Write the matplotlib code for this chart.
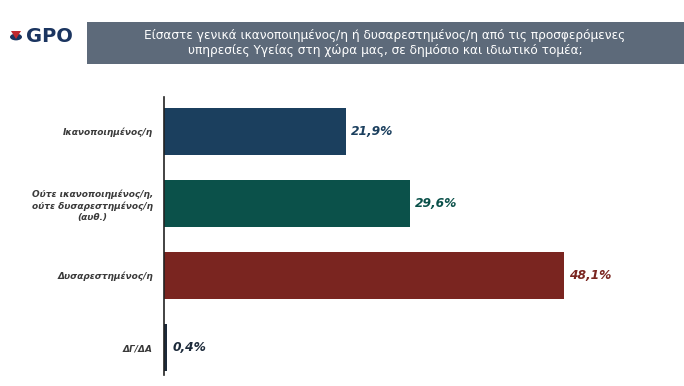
import matplotlib
matplotlib.use('Agg')
import matplotlib.pyplot as plt
from matplotlib.patches import Rectangle, Circle, Polygon

categories = ['Ικανοποιημένος/η',
              'Ούτε ικανοποιημένος/η,\nούτε δυσαρεστημένος/η\n(αυθ.)',
              'Δυσαρεστημένος/η',
              'ΔΓ/ΔΑ']
values = [21.9, 29.6, 48.1, 0.4]
labels = ['21,9%', '29,6%', '48,1%', '0,4%']
colors = ['#1b3f5e', '#0b514a', '#7a2520', '#1c2a3a']
title = ('Είσαστε γενικά ικανοποιημένος/η ή δυσαρεστημένος/η από τις προσφερόμενες\n'
         'υπηρεσίες Υγείας στη χώρα μας, σε δημόσιο και ιδιωτικό τομέα;')

W, H = 684, 386
fig = plt.figure(figsize=(W / 100, H / 100), dpi=100)
fig.patch.set_facecolor('white')

# header box
fig.patches.append(Rectangle((87 / W, 1 - 64 / H), (W - 87) / W, 42 / H,
                             transform=fig.transFigure, facecolor='#5d6a7a',
                             edgecolor='none'))
fig.text(385 / W, 1 - 43 / H, title, ha='center', va='center', color='white',
         fontsize=8.7, family='DejaVu Sans', linespacing=1.2)

# logo
fig.patches.append(Circle((16 / W, 1 - 37 / H), 6 / W, transform=fig.transFigure,
                          facecolor='#1b3560', edgecolor='none'))
fig.patches.append(Polygon([(11 / W, 1 - 31 / H), (21 / W, 1 - 31 / H), (16 / W, 1 - 39 / H)],
                           closed=True, transform=fig.transFigure,
                           facecolor='#c0282d', edgecolor='none'))
fig.text(26 / W, 1 - 36 / H, 'GPO', ha='left', va='center', color='#1b3560',
         fontsize=14, fontweight='black', family='DejaVu Sans')

# axes: x 164..680, y 97..375
ax = fig.add_axes([164 / W, 1 - 375 / H, (680 - 164) / W, (375 - 97) / H])
pos = range(len(values))
ax.barh(pos, values, height=0.65, color=colors)
ax.set_xlim(0, 62)
ax.set_ylim(3.38, -0.48)

for i, (v, lab, c) in enumerate(zip(values, labels, colors)):
    ax.text(v + 0.6, i, lab, va='center', ha='left', color=c, fontsize=8.8,
            fontweight='bold', fontstyle='italic', family='DejaVu Sans')

ax.set_yticks(list(pos))
ax.set_yticklabels(categories, fontsize=6.5, fontweight='bold', fontstyle='italic',
                   color='#3a3a3a', family='DejaVu Sans', linespacing=1.3)
ax.tick_params(axis='y', length=0, pad=8)
ax.set_xticks([])
for s in ['top', 'right', 'bottom']:
    ax.spines[s].set_visible(False)
ax.spines['left'].set_color('#222222')
ax.spines['left'].set_linewidth(1.2)
for t in ax.get_yticklabels():
    t.set_multialignment('center')

fig.savefig('out.png', dpi=100)
